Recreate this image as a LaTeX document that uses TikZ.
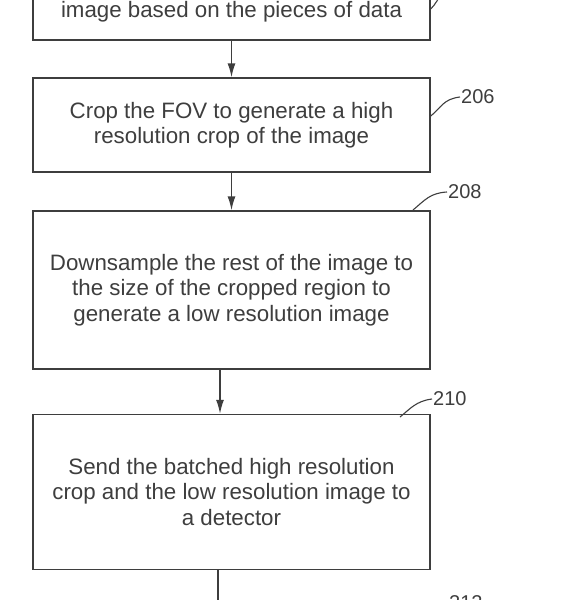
\documentclass[tikz,border=0pt]{standalone}
\usepackage{fontspec}
\setmainfont{Liberation Sans}
\usepackage{tikz}
\usetikzlibrary{arrows.meta,positioning,calc}
\definecolor{figink}{RGB}{62,62,62}

\begin{document}
\begin{tikzpicture}[x=1pt,y=-1pt,
  font=\fontsize{22.3}{25.5}\selectfont,
  stepbox/.style={draw=figink,line width=1.4pt,minimum width=397pt,align=center,text=figink,inner sep=0pt},
  refnum/.style={font=\fontsize{20}{22}\selectfont,text=figink,anchor=west,inner sep=1pt},
  leader/.style={draw=figink,line width=1.1pt},
  flow/.style={-{Latex[length=14pt,width=8pt]},draw=figink,line width=1.4pt}]

\path[use as bounding box,fill=white] (0,0) rectangle (560,600);
\node[stepbox,minimum height=56pt] (fov) at (231.5,12)
  {image based on the pieces of data};
\node[stepbox,minimum height=94pt] (crop) at (231.5,125)
  {Crop the FOV to generate a high\\resolution crop of the image};
\node[stepbox,minimum height=158pt] (downs) at (231.5,290)
  {Downsample the rest of the image to\\the size of the cropped region to\\generate a low resolution image};
\node[stepbox,minimum height=155pt] (send) at (231.5,492)
  {Send the batched high resolution\\crop and the low resolution image to\\a detector};
% reference numerals
\node[refnum] (n204) at (462,-9) {204};
\node[refnum] (n206) at (460,97) {206};
\node[refnum] (n208) at (447,192) {208};
\node[refnum] (n210) at (432,399) {210};
\node[refnum] (n212) at (448,603) {212};
\draw[leader] (fov.east |- 0,9) .. controls (436,4) and (438,-2) .. (442,-6);
\draw[leader] (crop.east |- 0,116) .. controls (441,108) and (443,99) .. (n206.west);
\draw[leader] (413,210) .. controls (425,200) and (430,193) .. (n208.west);
\draw[leader] (400,417) .. controls (410,409) and (416,401) .. (n210.west);
% flow
\draw[flow] (fov) -- (crop);
\draw[flow] (crop) -- (downs);
\draw[flow] ([xshift=-11.5pt]downs.south) -- ([xshift=-11.5pt]send.north);
\coordinate (tail) at (218,610);
\draw[draw=figink,line width=1.4pt] (send.south -| tail) -- (tail);

\end{tikzpicture}
\end{document}
